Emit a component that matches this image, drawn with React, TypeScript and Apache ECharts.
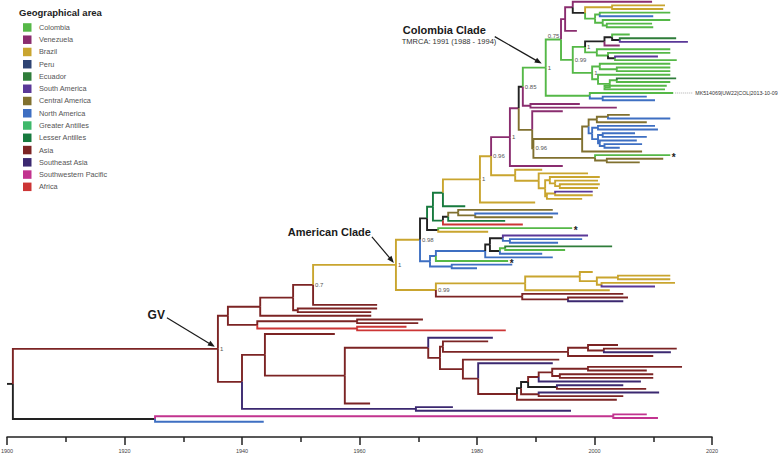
import React, { useEffect, useRef } from "react";
import * as echarts from "echarts";

// ---------------- Legend / geographical areas ----------------
const AREA_NAMES = [
  "Colombia", "Venezuela", "Brazil", "Peru", "Ecuador", "South America", "Central America",
  "North America", "Greater Antilles", "Lesser Antilles", "Asia", "Southeast Asia",
  "Southwestern Pacific", "Africa",
];
const AREA_CODES = ["c", "v", "b", "p", "e", "s", "m", "n", "g", "l", "a", "t", "w", "f"];
const AREA_COLORS = [
  "#55b847", "#8a2d6f", "#c9a52f", "#2e4373", "#2f7d3a", "#5a3898", "#80702f",
  "#3e6fc2", "#3eb86a", "#177a3e", "#7c2424", "#3b2870", "#c2338f", "#cc3535",
];
const UNRESOLVED_CODE = "k";
const UNRESOLVED_COLOR = "#222222";

// ---------------- Time axis ----------------
const YEAR_MIN = 1900;
const YEAR_MAX = 2020;
const YEAR_STEP = 20;
const ROOT_BRANCH_START = 1900;

// ---------------- Tree (dated Newick: "(children)YEAR<area>#label@anchor") ----------------
const SUB_TOP_B = "((2009.8v,((2012.0b,2011.7b)2003.0b,((2012.9c,2010.0n)2000.9c,(2012.9c,(2009.8c,2010.0c)2002.1c)2001.4c)2000.1c)1998.4k)1996.3v,1997.0v)1995.0v";
const SUB_N1A = "(((2006.0c,(2013.9e,2015.9s)2004.3k)2003.0k,2004.3v)2001.7k,(2012.9c,(2012.9c,(2010.8s,2014.0c)2003.5k)2002.3c)2000.4c)1998.4c#1";
const SUB_N1B = "((2012.9c,(2012.9c,2012.9c)2003.8c)2000.9c,(2012.9c,((2013.9e,2012.9c)2003.8c,(2012.3c,2012.0c)2001.7c)2002.6c)2000.6c)1999.6c#1";
const SUB_MK = "(2013.4c#MK514069|UW22|COL|2013-10-09,(2008.9n,2010.3n)2001.4n)1999.2c";
const COLOMBIA_CLADE = `((${SUB_TOP_B},(${SUB_N1A},${SUB_N1B})1996.3c#0.99)1994.3c#^0.75,${SUB_MK})1991.7c#1@COL`;
const SUB_G523 = `(${COLOMBIA_CLADE},(1997.5v,2003.8v)1989.1v)1987.8k#0.85`;

const SUB_O4 = "((2006.0m,2012.9n)2002.3m,2008.9m)2000.4m";
const SUB_BLUE = "((2010.3n,2010.8n)2000.6n,((2006.9n,2008.9n)2001.4n,(2007.2n,(2008.1n,2004.3n)2001.7n)2000.9n)2000.6n)1999.6n";
const SUB_O6 = "(2012.9c#*,(2011.7m,2007.7m)2002.1m)2000.1m";
const SUB_OLIVE = `(1994.6v,(((${SUB_O4},${SUB_BLUE})1999.0m,2008.1m)1997.9m,${SUB_O6})1989.6m#0.96)1989.4m`;
const SUB_PU1 = `((${SUB_G523},${SUB_OLIVE})1987.1v,1994.6v)1985.6v#1`;
const SUB_Y3 = "((2000.9b,(2000.6b,(2000.9b,2000.6b)1994.1b)1993.3b)1992.4b,((1999.7s,1999.7b)1993.3b,1997.9b)1991.9b)1991.6b";
const SUB_Y1 = `(1991.1b,(1998.9b,${SUB_Y3})1990.5b)1986.5b`;
const SUB_480 = `((${SUB_PU1},${SUB_Y1})1982.4b#0.96,1989.9b)1980.5b#1`;
const SUB_W = "(((1992.9m,(1993.8n,1992.9m)1979.7m)1976.8m,1984.8l)1975.1k,1987.8f)1974.2l";
const SUB_U = `(((${SUB_480},1978.0l)1974.2l,${SUB_W})1972.5l,(1996.2c#*,1981.9b)1973.4k)1971.5k`;
const SUB_K = "((1998.9s,(1997.9n,1993.8n)1985.6n)1984.4k,((2003.0e,1995.0c)1984.8c,1991.1n)1983.9k)1982.2k";
const SUB_BL1 = `(((${SUB_K},1992.9n)1981.4n,1985.3c#*)1973.0n,(1986.0n,1980.0n)1975.7n)1972.0n`;
const SUB_Y9 = "((1999.7b,((2012.9b,2012.9b)2004.0b,(2013.7b,2010.3s)2001.2b)2000.4b)1997.5b,2002.6b)1988.2b";
const SUB_R1 = "(2004.9a,(2005.7a,2004.9t)1995.5a)1987.7a";
const AMERICAN_CLADE = `((${SUB_U},${SUB_BL1})1970.3b#0.98,(${SUB_Y9},${SUB_R1})1973.0b#0.99)1966.2b#1@AM`;
const SUB_Q = `((((${AMERICAN_CLADE},1963.0a)1952.1a#0.7,(1963.0a,1962.0a)1949.5a)1948.7a,1962.0a)1943.1a,((1970.8a,1970.0a)1959.6a,(1968.0f,1984.9f)1959.6f)1942.6a)1937.6a`;
const SUB_N443B = "(1981.9a,((2004.0a,(2014.0a,2013.0t)2001.6a)1998.9a,2010.0a)1995.5a)1974.2a";
const SUB_AS4 = "((((2014.9a,2008.9a)1998.9a,(2010.0a,2010.0a)1994.1a)1992.8a,2007.9t)1990.5a,(2004.9t,2008.8a)1993.6k)1988.7k";
const SUB_AS0 = `(1994.0a,(1992.9t,((${SUB_AS4},(2011.0t,2004.9a)1990.5a)1987.5k,2003.8a)1986.8a)1980.2a)1977.6a`;
const SUB_H = `((1955.8a,((1982.7t,(${SUB_N443B},${SUB_AS0})1973.7a)1971.7a,1961.8a)1957.5a)1943.9a,(1975.9t,1996.0t)1969.6t)1940.0a`;
const GV_CLADE = `(${SUB_Q},${SUB_H})1935.9a#1@GV`;
const OUTGROUP = "((2008.9w,2010.8w)2003.2w,1943.7n)1925.2k";
const TREE = `(${GV_CLADE},${OUTGROUP})1901.0k`;

// ---------------- Annotations ----------------
const COLOMBIA_TITLE = "Colombia Clade";
const COLOMBIA_TMRCA = "TMRCA: 1991 (1988 - 1994)";
const AMERICAN_TITLE = "American Clade";
const GV_TITLE = "GV";
const LEGEND_TITLE = "Geographical area";

type TNode = {
  t: number;
  code: string;
  label?: string;
  anchor?: string;
  atBranchStart: boolean;
  children: TNode[];
  y: number;
  parent?: TNode;
};

function parseNewick(src: string): TNode {
  const s = src.replace(/\s+/g, "");
  let i = 0;
  const node = (): TNode => {
    const children: TNode[] = [];
    if (s[i] === "(") {
      i++;
      children.push(node());
      while (s[i] === ",") {
        i++;
        children.push(node());
      }
      if (s[i] !== ")") throw new Error("Newick: expected ) at " + i);
      i++;
    }
    const st = i;
    while (i < s.length && s[i] !== "," && s[i] !== ")") i++;
    const tok = s.slice(st, i);
    const m = /^(\d+(?:\.\d+)?)([a-z])(?:#([^@]*))?(?:@(\w+))?$/.exec(tok);
    if (!m) throw new Error("Newick token: " + tok);
    let label = m[3];
    let atStart = false;
    if (label && label.startsWith("^")) {
      atStart = true;
      label = label.slice(1);
    }
    const n: TNode = { t: parseFloat(m[1]), code: m[2], label, anchor: m[4], atBranchStart: atStart, children, y: 0 };
    children.forEach((c) => (c.parent = n));
    return n;
  };
  return node();
}

const FONT = '"Liberation Sans", Arial, Helvetica, sans-serif';

function colorOf(code: string) {
  if (code === UNRESOLVED_CODE) return UNRESOLVED_COLOR;
  const k = AREA_CODES.indexOf(code);
  return k >= 0 ? AREA_COLORS[k] : UNRESOLVED_COLOR;
}

export default function App() {
  const ref = useRef<HTMLDivElement>(null);

  useEffect(() => {
    const el = ref.current;
    if (!el) return;
    const chart = echarts.init(el, null, { renderer: "svg" });

    const root = parseNewick(TREE);
    let leafIdx = 0;
    const layout = (n: TNode) => {
      if (!n.children.length) {
        n.y = leafIdx++;
      } else {
        n.children.forEach(layout);
        n.y = (n.children[0].y + n.children[n.children.length - 1].y) / 2;
      }
    };
    layout(root);
    const nLeaves = leafIdx;

    type Branch = { t0: number; y0: number; t1: number; y1: number; color: string };
    const branches: Branch[] = [];
    type Lab = { node: TNode; kind: "support" | "star" | "name" };
    const labels: Lab[] = [];
    const anchors: Record<string, TNode> = {};
    const walk = (n: TNode) => {
      const p = n.parent;
      branches.push({
        t0: p ? p.t : ROOT_BRANCH_START,
        y0: p ? p.y : n.y,
        t1: n.t,
        y1: n.y,
        color: colorOf(n.code),
      });
      if (n.label) {
        if (n.children.length) labels.push({ node: n, kind: "support" });
        else labels.push({ node: n, kind: n.label === "*" ? "star" : "name" });
      }
      if (n.anchor) anchors[n.anchor] = n;
      n.children.forEach(walk);
    };
    walk(root);

    const option: any = {
      animation: false,
      backgroundColor: "#ffffff",
      grid: { left: 7, right: 66, top: 1.7, height: 420, containLabel: false, outerBoundsMode: "none" },
      xAxis: {
        type: "value",
        min: YEAR_MIN,
        max: YEAR_MAX,
        interval: YEAR_STEP,
        position: "bottom",
        offset: 15.3,
        axisLine: { show: true, onZero: false, lineStyle: { color: "#222", width: 1.5 } },
        axisTick: { show: true, length: 8, lineStyle: { color: "#222", width: 1.5 } },
        minorTick: { show: true, splitNumber: 2, length: 5, lineStyle: { color: "#222", width: 1.5 } },
        axisLabel: { fontSize: 5.5, color: "#444", margin: 11, fontFamily: FONT, formatter: (v: number) => String(v) },
        splitLine: { show: false },
        minorSplitLine: { show: false },
      },
      yAxis: { type: "value", min: 0, max: nLeaves - 1, inverse: true, show: false },
      series: [
        {
          type: "custom",
          coordinateSystem: "cartesian2d",
          silent: true,
          clip: false,
          encode: { x: [0, 2], y: [1, 3] },
          data: branches.map((b) => [b.t0, b.y0, b.t1, b.y1]),
          renderItem: (params: any, api: any) => {
            const b = branches[params.dataIndex];
            const p0 = api.coord([b.t0, b.y0]);
            const p1 = api.coord([b.t0, b.y1]);
            const p2 = api.coord([b.t1, b.y1]);
            return {
              type: "polyline",
              shape: { points: [p0, p1, p2] },
              style: { stroke: b.color, lineWidth: 1.9, fill: null, lineJoin: "miter" },
              silent: true,
            };
          },
        },
        {
          type: "custom",
          coordinateSystem: "cartesian2d",
          silent: true,
          clip: false,
          encode: { x: 0, y: 1 },
          data: labels.map((l) => [l.node.t, l.node.y]),
          renderItem: (params: any, api: any) => {
            const l = labels[params.dataIndex];
            const n = l.node;
            if (l.kind === "support") {
              let pt = api.coord([n.t, n.y]);
              let dy = 0;
              if (n.atBranchStart && n.parent) {
                pt = api.coord([n.parent.t, n.y]);
                dy = -4;
              }
              return {
                type: "text",
                x: pt[0] + 2,
                y: pt[1] + dy,
                style: {
                  text: n.label,
                  font: `6px ${FONT}`,
                  fill: "#555",
                  textAlign: "left",
                  textVerticalAlign: "middle",
                  verticalAlign: "middle",
                },
              };
            }
            const pt = api.coord([n.t, n.y]);
            if (l.kind === "star") {
              return {
                type: "text",
                x: pt[0] + 1.5,
                y: pt[1] + 2,
                style: {
                  text: "*",
                  font: `bold 10px ${FONT}`,
                  fill: "#222",
                  textAlign: "left",
                  textVerticalAlign: "middle",
                  verticalAlign: "middle",
                },
              };
            }
            return {
              type: "group",
              children: [
                {
                  type: "line",
                  shape: { x1: pt[0] + 2, y1: pt[1], x2: pt[0] + 20, y2: pt[1] },
                  style: { stroke: "#999", lineWidth: 0.8, lineDash: [1, 1] },
                },
                {
                  type: "text",
                  x: pt[0] + 22,
                  y: pt[1],
                  style: {
                    text: n.label,
                    font: `5.3px ${FONT}`,
                    fill: "#333",
                    textAlign: "left",
                    textVerticalAlign: "middle",
                    verticalAlign: "middle",
                  },
                },
              ],
            };
          },
        },
      ],
    };
    chart.setOption(option);

    // --------- annotations & legend (graphic) ---------
    const px = (n: TNode) => chart.convertToPixel({ gridIndex: 0 } as any, [n.t, n.y]) as number[];
    const arrow = (sx: number, sy: number, tx: number, ty: number) => {
      const dx = tx - sx;
      const dy = ty - sy;
      const len = Math.hypot(dx, dy);
      const ux = dx / len;
      const uy = dy / len;
      const L = 7;
      const W = 2.8;
      const bx = tx - ux * L;
      const by = ty - uy * L;
      return [
        { type: "line", shape: { x1: sx, y1: sy, x2: bx + ux * 1, y2: by + uy * 1 }, style: { stroke: "#1a1a1a", lineWidth: 1.2 } },
        {
          type: "polygon",
          shape: { points: [[tx, ty], [bx - uy * W, by + ux * W], [bx + uy * W, by - ux * W]] },
          style: { fill: "#1a1a1a" },
        },
      ];
    };
    const txt = (x: number, y: number, text: string, font: string, fill: string, align = "left") => ({
      type: "text",
      x,
      y,
      style: { text, font, fill, textAlign: align, textVerticalAlign: "middle", verticalAlign: "middle" },
    });

    const g: any[] = [];
    // legend
    g.push(txt(19, 12.5, LEGEND_TITLE, `bold 9.5px ${FONT}`, "#222"));
    AREA_NAMES.forEach((name, i) => {
      const cy = 27.4 + 12.26 * i;
      g.push({ type: "rect", shape: { x: 23, y: cy - 4.2, width: 8.5, height: 8.5 }, style: { fill: AREA_COLORS[i] } });
      g.push(txt(39, cy, name, `7.3px ${FONT}`, "#555"));
    });

    if (anchors.COL) {
      const [cx, cy] = px(anchors.COL);
      const tx = cx - 4;
      const ty = cy - 4;
      const sx = tx - 47;
      const sy = ty - 27;
      g.push(...arrow(sx, sy, tx, ty));
      g.push(txt(sx - 92, sy - 7, COLOMBIA_TITLE, `bold 11px ${FONT}`, "#1a1a1a"));
      g.push(txt(sx - 93, sy + 5, COLOMBIA_TMRCA, `7.5px ${FONT}`, "#333"));
    }
    if (anchors.AM) {
      const [cx, cy] = px(anchors.AM);
      const tx = cx - 2;
      const ty = cy - 2;
      const sx = tx - 22;
      const sy = ty - 26;
      g.push(...arrow(sx, sy, tx, ty));
      g.push(txt(sx - 1, sy - 5, AMERICAN_TITLE, `bold 11px ${FONT}`, "#1a1a1a", "right"));
    }
    if (anchors.GV) {
      const [cx, cy] = px(anchors.GV);
      const tx = cx - 3;
      const ty = cy - 2;
      const sx = tx - 48;
      const sy = ty - 29;
      g.push(...arrow(sx, sy, tx, ty));
      g.push(txt(sx - 2, sy - 3, GV_TITLE, `bold 12px ${FONT}`, "#1a1a1a", "right"));
    }
    chart.setOption({ graphic: g.map((e) => ({ ...e, silent: true })) });

    return () => chart.dispose();
  }, []);

  return (
    <div
      ref={ref}
      style={{ position: "fixed", left: 0, top: 0, width: 778, height: 454, background: "#ffffff" }}
    />
  );
}
